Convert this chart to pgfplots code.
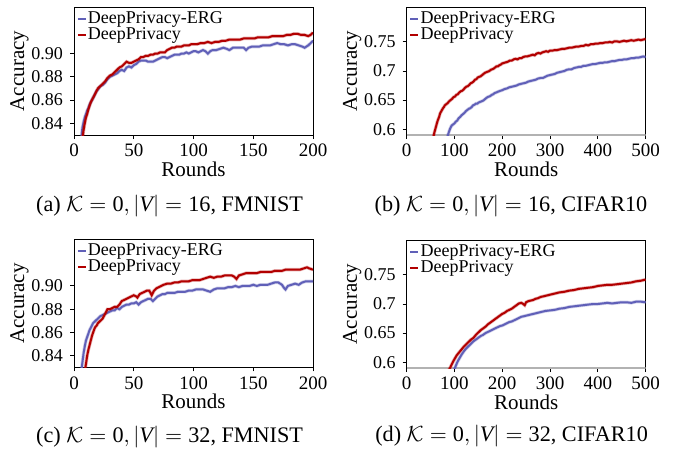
\documentclass[border=0pt]{standalone}
\usepackage{fontspec}
\setmainfont{Liberation Serif}
\usepackage{pgfplots}
\pgfplotsset{compat=1.18}
\usepackage{pgfplotstable}
\definecolor{ergblue}{RGB}{96,96,184}
\definecolor{dpred}{RGB}{178,0,0}

% (a) |V|=16, FMNIST
\pgfplotstableread{
x y
7 0.826
8 0.834
9 0.840
10 0.845
11 0.848
12 0.852
13 0.855
14 0.858
15 0.860
16 0.862
17 0.864
18 0.866
19 0.868
20 0.870
22 0.872
24 0.874
26 0.876
28 0.879
30 0.881
32 0.882
34 0.884
36 0.886
38 0.888
40 0.889
42 0.891
44 0.893
46 0.892
48 0.892
50 0.893
52 0.894
54 0.895
56 0.897
58 0.897
60 0.898
62 0.898
64 0.899
66 0.899
68 0.900
70 0.900
72 0.901
74 0.901
76 0.901
78 0.903
80 0.904
82 0.905
84 0.905
86 0.906
88 0.906
90 0.906
92 0.907
94 0.907
96 0.907
98 0.908
100 0.908
103 0.908
106 0.909
109 0.909
112 0.910
115 0.909
118 0.910
121 0.910
124 0.911
127 0.911
130 0.912
133 0.912
136 0.912
139 0.912
142 0.913
145 0.913
148 0.913
151 0.913
154 0.914
157 0.914
160 0.914
163 0.914
166 0.915
169 0.915
172 0.915
175 0.915
178 0.916
181 0.916
184 0.917
187 0.917
190 0.916
193 0.916
196 0.915
198 0.916
200 0.918
}\adp
\pgfplotstableread{
x y
6 0.826
7 0.836
8 0.841
9 0.845
10 0.848
11 0.851
12 0.853
13 0.856
14 0.858
15 0.860
16 0.862
17 0.864
18 0.866
19 0.868
20 0.869
22 0.872
24 0.873
26 0.875
28 0.878
30 0.880
32 0.881
34 0.882
36 0.883
38 0.885
40 0.886
42 0.885
44 0.888
46 0.889
48 0.888
50 0.890
52 0.891
54 0.893
56 0.894
58 0.894
60 0.894
62 0.893
64 0.893
66 0.893
68 0.894
70 0.895
72 0.896
74 0.897
76 0.897
78 0.896
80 0.897
82 0.898
84 0.899
86 0.899
88 0.899
90 0.900
92 0.900
94 0.901
96 0.900
98 0.901
100 0.902
102 0.902
104 0.901
106 0.902
108 0.903
110 0.902
112 0.900
114 0.902
116 0.903
119 0.903
122 0.904
125 0.905
128 0.904
130 0.903
133 0.905
136 0.905
139 0.905
142 0.905
144 0.903
146 0.905
149 0.906
152 0.906
155 0.906
158 0.907
161 0.907
164 0.907
167 0.908
170 0.909
173 0.908
176 0.908
179 0.907
182 0.908
185 0.908
188 0.907
191 0.906
193 0.905
196 0.907
198 0.909
200 0.911
}\aerg

% (b) |V|=16, CIFAR10
\pgfplotstableread{
x y
56 0.586
58 0.594
60 0.600
62 0.606
64 0.612
66 0.617
68 0.621
70 0.627
72 0.630
74 0.633
76 0.636
78 0.638
80 0.641
83 0.643
86 0.645
89 0.648
92 0.650
95 0.652
98 0.655
101 0.656
104 0.659
107 0.660
110 0.663
113 0.665
116 0.666
119 0.668
122 0.671
125 0.673
128 0.674
131 0.676
134 0.679
137 0.680
140 0.682
143 0.685
146 0.686
149 0.689
152 0.690
155 0.691
158 0.693
161 0.695
164 0.697
167 0.698
170 0.699
173 0.700
176 0.702
179 0.703
182 0.704
185 0.706
188 0.708
191 0.708
194 0.710
197 0.711
200 0.713
204 0.714
208 0.715
212 0.716
216 0.718
220 0.718
224 0.720
228 0.721
232 0.720
236 0.722
240 0.722
244 0.724
248 0.725
252 0.725
256 0.726
260 0.727
264 0.728
268 0.727
272 0.730
276 0.731
280 0.730
284 0.732
288 0.733
292 0.734
296 0.733
300 0.735
305 0.735
310 0.736
315 0.736
320 0.737
325 0.738
330 0.738
335 0.739
340 0.740
345 0.740
350 0.741
355 0.742
360 0.742
365 0.743
370 0.743
375 0.745
380 0.744
385 0.746
390 0.746
395 0.747
400 0.747
405 0.748
410 0.748
415 0.749
420 0.749
425 0.750
430 0.749
435 0.751
440 0.751
445 0.750
450 0.751
455 0.752
460 0.751
465 0.752
470 0.753
475 0.752
480 0.753
485 0.754
490 0.753
495 0.754
500 0.755
}\bdp
\pgfplotstableread{
x y
85 0.586
88 0.594
91 0.601
94 0.606
97 0.608
100 0.610
103 0.613
106 0.615
109 0.619
112 0.621
115 0.624
118 0.626
121 0.628
124 0.631
127 0.633
130 0.635
133 0.636
136 0.638
139 0.641
142 0.642
145 0.644
148 0.644
151 0.646
154 0.647
157 0.648
160 0.649
163 0.651
166 0.653
169 0.655
172 0.656
175 0.657
178 0.659
181 0.660
184 0.662
187 0.663
190 0.664
193 0.665
196 0.666
200 0.667
205 0.669
210 0.670
215 0.672
220 0.673
225 0.674
230 0.675
235 0.677
240 0.678
245 0.679
250 0.680
255 0.682
260 0.683
265 0.684
270 0.685
275 0.687
280 0.688
285 0.688
290 0.690
295 0.692
300 0.693
305 0.694
310 0.695
315 0.697
320 0.698
325 0.699
330 0.700
335 0.702
340 0.703
345 0.703
350 0.705
355 0.706
360 0.707
365 0.707
370 0.709
375 0.709
380 0.710
385 0.711
390 0.712
395 0.712
400 0.713
405 0.714
410 0.714
415 0.715
420 0.715
425 0.716
430 0.717
435 0.717
440 0.718
445 0.719
450 0.719
455 0.720
460 0.720
465 0.721
470 0.722
475 0.722
480 0.723
485 0.723
490 0.724
495 0.725
500 0.724
}\berg

% (c) |V|=32, FMNIST
\pgfplotstableread{
x y
9 0.826
10 0.833
11 0.840
12 0.845
13 0.849
14 0.853
15 0.857
16 0.860
17 0.863
18 0.865
19 0.866
20 0.868
21 0.869
22 0.870
23 0.871
24 0.872
25 0.874
26 0.876
27 0.878
28 0.880
30 0.880
32 0.881
34 0.882
36 0.882
38 0.884
40 0.887
42 0.888
44 0.889
46 0.890
48 0.891
50 0.892
52 0.891
53 0.890
55 0.893
57 0.894
59 0.895
61 0.896
63 0.896
65 0.892
67 0.896
69 0.898
71 0.899
73 0.900
75 0.901
78 0.902
81 0.902
84 0.903
87 0.903
90 0.904
93 0.904
96 0.904
99 0.905
102 0.905
105 0.905
108 0.906
111 0.907
114 0.908
117 0.907
120 0.908
123 0.908
126 0.909
129 0.909
132 0.909
134 0.908
136 0.906
138 0.909
141 0.910
144 0.911
147 0.911
150 0.911
153 0.911
156 0.912
159 0.912
162 0.912
165 0.912
168 0.913
171 0.913
174 0.913
177 0.914
180 0.914
183 0.914
186 0.914
189 0.914
192 0.915
195 0.916
197 0.915
200 0.914
}\cdp
\pgfplotstableread{
x y
6 0.826
7 0.834
8 0.842
9 0.848
10 0.853
11 0.856
12 0.859
13 0.862
14 0.864
15 0.866
16 0.868
17 0.869
18 0.870
19 0.871
20 0.872
22 0.874
24 0.875
26 0.876
28 0.877
30 0.878
32 0.879
34 0.879
36 0.881
38 0.880
40 0.882
42 0.883
44 0.884
46 0.884
48 0.885
50 0.885
52 0.886
54 0.884
56 0.886
58 0.887
60 0.888
62 0.889
64 0.889
66 0.887
68 0.889
70 0.891
72 0.892
74 0.893
76 0.893
78 0.894
81 0.894
84 0.894
87 0.895
90 0.895
93 0.895
96 0.896
99 0.896
102 0.897
105 0.897
108 0.897
111 0.896
114 0.895
117 0.897
120 0.898
123 0.898
126 0.898
129 0.899
132 0.899
135 0.900
138 0.899
141 0.900
144 0.900
147 0.900
150 0.901
153 0.900
156 0.901
159 0.901
162 0.901
165 0.902
168 0.903
171 0.903
174 0.901
176 0.898
177 0.897
179 0.900
182 0.901
185 0.902
188 0.901
191 0.903
194 0.904
197 0.904
200 0.904
}\cerg

% (d) |V|=32, CIFAR10
\pgfplotstableread{
x y
88 0.586
92 0.592
96 0.599
100 0.605
105 0.612
110 0.617
115 0.622
120 0.627
125 0.631
130 0.635
135 0.639
140 0.642
145 0.647
150 0.651
155 0.655
160 0.658
165 0.661
170 0.665
175 0.668
180 0.671
185 0.674
190 0.677
195 0.680
200 0.683
205 0.685
210 0.688
215 0.690
220 0.692
225 0.695
230 0.698
235 0.701
240 0.702
244 0.700
247 0.698
250 0.703
255 0.705
260 0.706
265 0.707
270 0.709
275 0.710
280 0.712
290 0.714
300 0.716
310 0.718
320 0.720
330 0.721
340 0.723
350 0.724
360 0.726
370 0.727
380 0.728
390 0.729
400 0.731
410 0.732
420 0.733
430 0.733
440 0.734
450 0.735
460 0.736
470 0.737
480 0.739
490 0.740
500 0.742
}\ddp
\pgfplotstableread{
x y
98 0.585
102 0.592
106 0.600
110 0.606
115 0.613
120 0.619
125 0.624
130 0.628
135 0.632
140 0.636
145 0.639
150 0.642
155 0.645
160 0.647
165 0.650
170 0.652
175 0.654
180 0.656
185 0.658
190 0.660
195 0.662
200 0.663
205 0.665
210 0.667
215 0.669
220 0.670
225 0.672
230 0.674
235 0.676
240 0.678
245 0.679
250 0.680
260 0.682
270 0.684
280 0.686
290 0.688
300 0.689
310 0.690
320 0.692
330 0.693
340 0.695
350 0.696
360 0.697
370 0.698
380 0.699
390 0.700
400 0.700
410 0.701
420 0.702
430 0.701
440 0.702
450 0.703
460 0.703
470 0.702
480 0.704
490 0.704
500 0.703
}\derg

\pgfplotsset{
  panel/.style={
    scale only axis, width=119.5pt, height=64pt,
    xmin=0,
    tick align=outside, major tick length=2pt,
    xtick pos=left, ytick pos=left,
    axis line style={line width=0.5pt},
    tick style={black, line width=0.5pt},
    yticklabel style={font=\rmfamily\fontsize{9}{9}\selectfont},
    xticklabel style={font=\rmfamily\fontsize{9.5}{9.5}\selectfont, yshift=1pt},
    label style={font=\rmfamily\fontsize{10.5}{10.5}\selectfont},
    xlabel={Rounds}, ylabel={Accuracy},
    xlabel shift=-4.5pt, ylabel shift=-5.5pt,
    /pgf/number format/assume math mode=true,
    legend style={at={(0.01,0.975)}, anchor=north west, draw=none, fill=none,
      font=\rmfamily\fontsize{9}{9}\selectfont, inner sep=0pt, row sep=-0.3pt,
      nodes={inner xsep=0.6pt, inner ysep=0.4pt}},
    legend cell align=left,
    legend image code/.code={\draw[##1, line width=1pt] (0pt,0pt) -- (4pt,0pt);},
  },
  fm/.style={panel, xmax=200, ymin=0.83, ymax=0.94,
    xtick={0,50,100,150,200}, ytick={0.84,0.86,0.88,0.90},
    yticklabel style={/pgf/number format/.cd, fixed, fixed zerofill, precision=2}},
  cf/.style={panel, xmax=500, ymin=0.59, ymax=0.81,
    xtick={0,100,200,300,400,500}, ytick={0.6,0.65,0.7,0.75},
    yticklabel style={/pgf/number format/.cd, fixed, precision=2}},
  halo/.style={line width=1.7pt, opacity=0.3, forget plot},
  main/.style={line width=1pt},
}

\begin{document}
\begin{tikzpicture}
\path (0pt,0pt) rectangle (341.5pt,-228pt);

\begin{axis}[fm, at={(37pt,-67.5pt)}, anchor=south west]
\addplot[ergblue, halo] table {\aerg};
\addplot[ergblue, main] table {\aerg};
\addplot[dpred, halo] table {\adp};
\addplot[dpred, main] table {\adp};
\legend{DeepPrivacy-ERG, DeepPrivacy}
\end{axis}

\begin{axis}[cf, at={(203.3pt,-67.5pt)}, anchor=south west]
\addplot[gray!60, line width=1.4pt, forget plot] coordinates {(0,0.59) (500,0.59)};
\addplot[ergblue, halo] table {\berg};
\addplot[ergblue, main] table {\berg};
\addplot[dpred, halo] table {\bdp};
\addplot[dpred, main] table {\bdp};
\legend{DeepPrivacy-ERG, DeepPrivacy}
\end{axis}

\begin{axis}[fm, at={(37pt,-183.7pt)}, anchor=south west]
\addplot[ergblue, halo] table {\cerg};
\addplot[ergblue, main] table {\cerg};
\addplot[dpred, halo] table {\cdp};
\addplot[dpred, main] table {\cdp};
\legend{DeepPrivacy-ERG, DeepPrivacy}
\end{axis}

\begin{axis}[cf, at={(203.3pt,-184pt)}, anchor=south west]
\addplot[gray!60, line width=1.4pt, forget plot] coordinates {(0,0.59) (500,0.59)};
\addplot[ergblue, halo] table {\derg};
\addplot[ergblue, main] table {\derg};
\addplot[dpred, halo] table {\ddp};
\addplot[dpred, main] table {\ddp};
\legend{DeepPrivacy-ERG, DeepPrivacy}
\end{axis}

\begin{scope}[every node/.style={font=\rmfamily\fontsize{11.1}{11.1}\selectfont}]
\node at (84.8pt,-102.8pt) {(a) $\mathcal{K}=\textrm{0}, |\textit{V}|=\textrm{16}$, FMNIST};
\node at (255.5pt,-102.8pt) {(b) $\mathcal{K}=\textrm{0}, |\textit{V}|=\textrm{16}$, CIFAR10};
\node at (84.8pt,-218.6pt) {(c) $\mathcal{K}=\textrm{0}, |\textit{V}|=\textrm{32}$, FMNIST};
\node at (255.8pt,-218.2pt) {(d) $\mathcal{K}=\textrm{0}, |\textit{V}|=\textrm{32}$, CIFAR10};
\end{scope}
\end{tikzpicture}
\end{document}
